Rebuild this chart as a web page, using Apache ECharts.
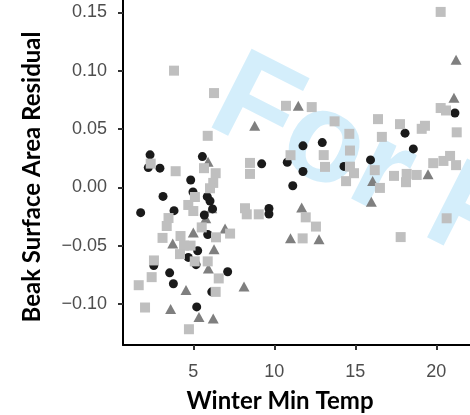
<!DOCTYPE html>
<html>
<head>
<meta charset="utf-8">
<script src="https://cdn.jsdelivr.net/npm/echarts@6/dist/echarts.min.js"></script>
<style>
  html, body { margin: 0; padding: 0; background: #fff; }
  #chart { width: 470px; height: 415px; }
</style>
</head>
<body>
<div id="chart"></div>
<script>
// winter min temp vs beak residual, three groups
var circles = [
  [2.33, 0.0279], [2.22, 0.0170], [2.94, 0.0165], [4.84, 0.0064], [3.13, -0.0077],
  [1.75, -0.0216], [3.81, -0.0199], [4.98, -0.0039], [5.56, 0.0264], [5.86, -0.0079],
  [6.03, -0.0116], [5.68, -0.0236], [6.19, -0.0184], [9.22, 0.0202], [9.67, -0.0180],
  [9.67, -0.0227], [10.80, 0.0216], [11.77, 0.0356], [12.96, 0.0384], [11.77, 0.0137],
  [11.14, 0.0015], [14.30, 0.0180], [15.94, 0.0236], [18.07, 0.0465], [18.58, 0.0330],
  [21.15, 0.0637], [5.89, -0.0403], [5.27, -0.0542], [4.69, -0.0599], [5.17, -0.0661],
  [2.56, -0.0669], [3.54, -0.0731], [3.77, -0.0825], [7.12, -0.0722], [6.14, -0.0894],
  [5.21, -0.1023]
];
var triangles = [
  [5.91, 0.0221], [8.79, 0.0528], [11.48, 0.0699], [21.22, 0.1094], [21.09, 0.0768],
  [6.14, -0.0178], [5.77, -0.0264], [5.00, -0.0386], [3.73, -0.0479], [6.96, -0.0352],
  [6.28, -0.0530], [5.93, -0.0693], [4.55, -0.0879], [8.13, -0.0849], [3.60, -0.1040],
  [5.35, -0.1109], [6.23, -0.1122], [11.69, -0.0172], [11.00, -0.0436], [12.76, -0.0444],
  [16.07, 0.0056], [15.99, -0.0122], [19.49, 0.0113]
];
var squares = [
  [3.81, 0.1000], [6.28, 0.0808], [5.89, 0.0442], [2.37, 0.0204], [3.91, 0.0139],
  [5.66, 0.0165], [6.38, 0.0122], [6.23, 0.0039], [6.03, -0.0007], [5.10, -0.0082],
  [4.69, -0.0150], [5.00, -0.0202], [3.47, -0.0262], [3.36, -0.0330], [5.52, -0.0342],
  [7.27, -0.0395], [6.40, -0.0427], [3.10, -0.0432], [4.21, -0.0416], [4.43, -0.0498],
  [4.83, -0.0498], [4.18, -0.0571], [5.09, -0.0633], [5.89, -0.0633], [2.57, -0.0625],
  [2.43, -0.0768], [1.63, -0.0837], [6.57, -0.0779], [6.38, -0.0894], [2.02, -0.1028],
  [4.73, -0.1214], [8.19, -0.0178], [8.30, -0.0230], [9.04, -0.0230], [8.50, 0.0210],
  [8.50, 0.0116], [10.72, 0.0699], [12.31, 0.0688], [11.00, 0.0276], [13.72, 0.0566],
  [14.63, 0.0459], [14.67, 0.0316], [13.05, 0.0277], [13.13, 0.0176], [14.67, 0.0178],
  [14.92, 0.0122], [14.43, 0.0054], [11.94, -0.0256], [12.57, -0.0335], [11.75, -0.0436],
  [16.40, 0.0585], [17.76, 0.0542], [16.64, 0.0433], [19.10, 0.0502], [19.30, 0.0528],
  [21.26, 0.0472], [20.27, 0.0680], [20.60, 0.0659], [20.27, 0.1503], [16.20, 0.0148],
  [17.39, 0.0099], [18.17, 0.0116], [18.79, 0.0107], [18.13, 0.0045], [19.81, 0.0208],
  [20.44, 0.0227], [20.85, 0.0270], [21.22, 0.0191], [16.52, -0.0004], [20.64, -0.0264],
  [17.80, -0.0425]
];
var xTicks = [5, 10, 15, 20];
var yTicks = [-0.10, -0.05, 0, 0.05, 0.10, 0.15];
var yTickLabels = ['\u22120.10', '\u22120.05', '0.00', '0.05', '0.10', '0.15'];

var chart = echarts.init(document.getElementById('chart'), null, { renderer: 'canvas' });

var tickFont = { color: '#4d4d4d', fontSize: 18, fontFamily: 'Liberation Sans' };
var titleFont = 'bold 24px Lato';

chart.setOption({
  animation: false,
  backgroundColor: '#fff',
  grid: { left: 123, right: 0, top: 0, bottom: 70 },
  xAxis: {
    type: 'value',
    min: 0.66,
    max: 22.08,
    splitLine: { show: false },
    axisLine: { show: true, onZero: false, lineStyle: { color: '#000', width: 2 } },
    axisTick: { show: true, length: 5, lineStyle: { color: '#333', width: 2 }, customValues: xTicks },
    axisLabel: Object.assign({ margin: 18, customValues: xTicks }, tickFont)
  },
  yAxis: {
    type: 'value',
    min: -0.1349,
    max: 0.1605,
    splitLine: { show: false },
    axisLine: { show: true, onZero: false, lineStyle: { color: '#000', width: 2 } },
    axisTick: { show: true, length: 5, lineStyle: { color: '#333', width: 2 }, customValues: yTicks },
    axisLabel: Object.assign({
      margin: 16,
      customValues: yTicks,
      formatter: function(v) {
        var best = 0;
        for (var i = 1; i < yTicks.length; i++) {
          if (Math.abs(yTicks[i] - v) < Math.abs(yTicks[best] - v)) best = i;
        }
        return yTickLabels[best];
      }
    }, tickFont)
  },
  graphic: [
    {
      type: 'text', z: 0, x: 220, y: 92, rotation: -0.471,
      style: { text: 'For Review', font: 'bold 128px "Liberation Sans"', fill: '#d4eefb', verticalAlign: 'middle', textAlign: 'left' }
    },
    {
      type: 'text', z: 10, x: 280, y: 401,
      style: { text: 'Winter Min Temp', font: titleFont, fill: '#000', textAlign: 'center', verticalAlign: 'middle' }
    },
    {
      type: 'text', z: 10, x: 32, y: 177, rotation: Math.PI / 2,
      style: { text: 'Beak Surface Area Residual', font: titleFont, fill: '#000', textAlign: 'center', verticalAlign: 'middle' }
    }
  ],
  series: [
    {
      type: 'scatter', data: triangles, symbol: 'triangle', symbolSize: [11, 10],
      itemStyle: { color: '#7f7f7f', opacity: 1 }, z: 3
    },
    {
      type: 'scatter', data: circles, symbol: 'circle', symbolSize: 9,
      itemStyle: { color: '#1a1a1a', opacity: 1 }, z: 4
    },
    {
      type: 'scatter', data: squares, symbol: 'rect', symbolSize: 10,
      itemStyle: { color: '#bfbfbf', opacity: 1 }, z: 5
    }
  ]
});
</script>
</body>
</html>
